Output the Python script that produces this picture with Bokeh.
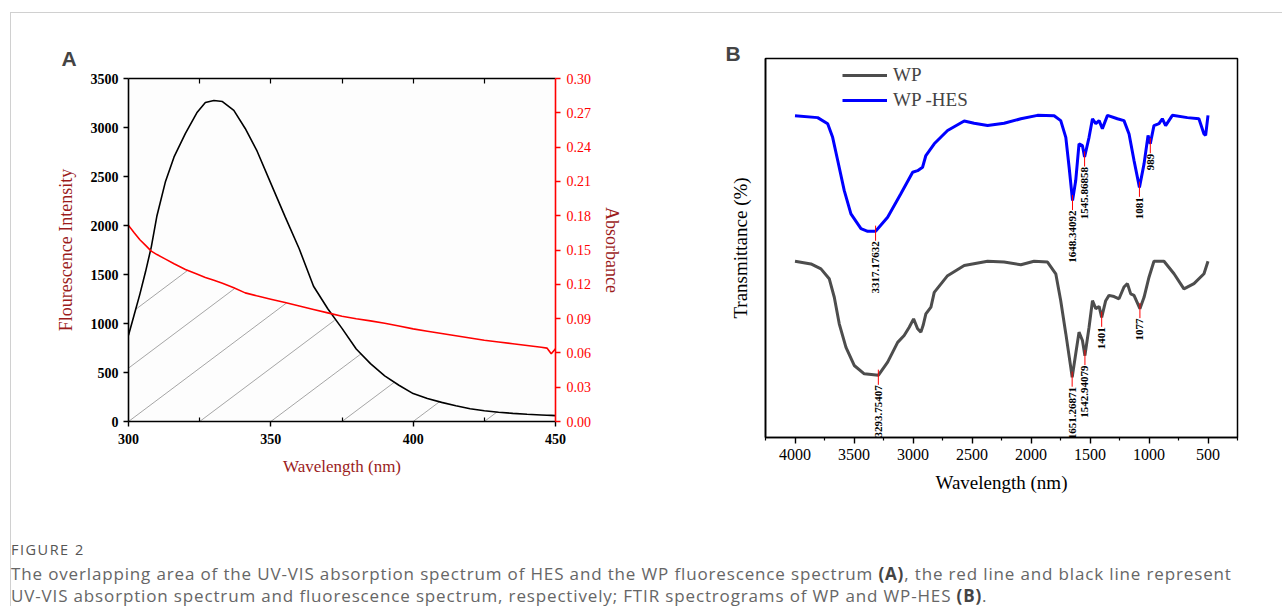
import numpy as np
from bokeh.plotting import figure
from bokeh.models import (Range1d, LinearAxis, FixedTicker, NumeralTickFormatter,
                          Legend, LegendItem, Div)
from bokeh.layouts import row, column
from bokeh.embed import file_html
from bokeh.resources import INLINE
from bokeh.core.properties import value

# ---------------- Panel A data ----------------
wavelength_nm = [300, 302, 304, 306, 308, 310, 313, 316, 320, 324, 327, 330, 333, 337,
                 341, 345, 350, 355, 360, 365, 370, 375, 380, 385, 390, 395, 400, 405,
                 410, 415, 420, 425, 430, 435, 440, 445, 447, 448.5, 450]
fluorescence = [880, 1090, 1300, 1530, 1780, 2100, 2450, 2700, 2940, 3150, 3255, 3275, 3265, 3175,
                2990, 2770, 2430, 2090, 1760, 1380, 1150, 950, 740, 590, 465, 370, 285, 235,
                195, 160, 130, 110, 95, 83, 74, 67, 64, 62, 60]
absorbance = [0.1715, 0.165, 0.159, 0.154, 0.149, 0.146, 0.142, 0.138, 0.133, 0.129, 0.126, 0.1235, 0.121, 0.117,
              0.1125, 0.110, 0.107, 0.104, 0.101, 0.098, 0.095, 0.092, 0.0898, 0.088, 0.086, 0.0835, 0.081, 0.079,
              0.077, 0.075, 0.073, 0.071, 0.0695, 0.068, 0.0665, 0.065, 0.0642, 0.0592, 0.0636]
a_x_ticks = [300, 350, 400, 450]
a_x_minor = [325, 375, 425]
a_top_ticks = [325, 350, 375, 400, 425]
a_left_ticks = [0, 500, 1000, 1500, 2000, 2500, 3000, 3500]
a_right_ticks = [0.0, 0.03, 0.06, 0.09, 0.12, 0.15, 0.18, 0.21, 0.24, 0.27, 0.30]

# ---------------- Panel B data ----------------
hes_wn = [4000, 3808, 3723, 3681, 3638, 3583, 3526, 3441, 3384, 3317, 3215, 3103, 3003, 2961,
          2919, 2891, 2820, 2707, 2566, 2482, 2368, 2228, 2086, 1945, 1804, 1748, 1705, 1677,
          1648, 1621, 1593, 1564, 1546, 1508, 1479, 1451, 1423, 1395, 1352, 1268, 1212, 1169,
          1127, 1081, 1042, 1008, 989, 958, 915, 887, 859, 802, 675, 577, 534, 520, 500]
hes_t = [84.9, 84.4, 82.8, 79.2, 73.1, 65.2, 59.0, 55.1, 54.4, 54.4, 58.1, 64.3, 70.0, 70.4,
         71.3, 74.4, 77.5, 81.0, 83.5, 82.9, 82.3, 82.9, 84.1, 85.0, 84.9, 83.6, 79.2, 71.3,
         62.5, 67.8, 77.5, 77.0, 74.0, 79.2, 84.1, 82.8, 83.6, 81.5, 85.0, 84.1, 83.6, 80.1,
         73.1, 66.0, 72.2, 79.7, 77.5, 82.3, 82.8, 84.1, 82.3, 85.0, 84.4, 84.1, 80.1, 79.7, 85.0]
wp_wn = [4000, 3865, 3780, 3710, 3667, 3625, 3568, 3498, 3413, 3294, 3215, 3130, 3075, 3032,
         2995, 2961, 2933, 2914, 2891, 2848, 2820, 2707, 2566, 2368, 2228, 2086, 1974, 1860,
         1790, 1748, 1705, 1663, 1651, 1621, 1593, 1564, 1543, 1508, 1479, 1451, 1423, 1401,
         1367, 1339, 1296, 1254, 1212, 1183, 1155, 1127, 1077, 1042, 1000, 958, 873, 788,
         704, 619, 534, 500]
wp_t = [46.5, 45.8, 44.5, 41.9, 37.0, 30.0, 23.8, 19.0, 16.8, 16.4, 19.9, 25.1, 26.9, 29.1,
        31.3, 28.7, 27.8, 29.6, 32.6, 34.4, 38.3, 42.7, 45.4, 46.5, 46.3, 45.6, 46.5, 46.3,
        43.2, 36.1, 27.4, 18.5, 15.9, 22.1, 27.8, 25.6, 21.6, 29.1, 36.1, 34.0, 34.6, 31.7,
        36.1, 37.5, 37.2, 36.6, 39.7, 40.6, 37.9, 37.5, 34.0, 37.0, 42.3, 46.5, 46.5, 43.2,
        39.2, 40.6, 43.2, 46.5]
hes_peak_wn = [3317.17632, 1648.34092, 1545.86858, 1081, 989]
hes_peak_t = [54.4, 62.5, 74.0, 66.0, 77.5]
hes_peak_labels = ["3317.17632", "1648.34092", "1545.86858", "1081", "989"]
wp_peak_wn = [3293.75407, 1651.26871, 1542.94079, 1401, 1077]
wp_peak_t = [16.4, 15.9, 21.6, 31.7, 34.0]
wp_peak_labels = ["3293.75407", "1651.26871", "1542.94079", "1401", "1077"]
b_x_ticks = [4000, 3500, 3000, 2500, 2000, 1500, 1000, 500]
b_x_minor = [4250, 3750, 3250, 2750, 2250, 1750, 1250, 750, 250]

SERIF = "Liberation Serif"
DARKRED = "#9b1c1c"

# ================= Panel A =================
A_FW, A_FH = 427, 343
fa = figure(width=689, height=505, x_range=Range1d(300, 450), y_range=Range1d(0, 3500),
            output_backend="svg", toolbar_location=None, x_axis_type=None, y_axis_type=None,
            min_border_left=117, min_border_right=145, min_border_top=65, min_border_bottom=97,
            title="A")
fa.outline_line_color = None
fa.background_fill_color = "#fdfdfd"
fa.extra_y_ranges = {"abs": Range1d(0, 0.30)}
fa.title.text_font = "Liberation Sans"
fa.title.text_font_style = "bold"
fa.title.text_font_size = "21px"
fa.title.align = "left"
fa.title.offset = -67
fa.title.standoff = 17

# hatched overlap region (under both curves), drawn as parallel lines
scale = 3500 / 0.30
overlap = np.minimum(np.array(fluorescence, float), np.array(absorbance) * scale)
px_nm = A_FW / 150.0
px_u = A_FH / 3500.0
m = 0.75 * px_nm / px_u
xs_f = np.linspace(300, 450, 6001)
ov_f = np.interp(xs_f, wavelength_nm, overlap)
hx0, hy0, hx1, hy1 = [], [], [], []
for x0 in np.arange(300 - 25 * 10, 450, 25):
    yl = m * (xs_f - x0)
    inside = (yl >= 0) & (yl <= ov_f)
    if inside.any():
        i0 = int(np.where(inside)[0][0])
        i1 = i0
        while i1 + 1 < len(xs_f) and inside[i1 + 1]:
            i1 += 1
        hx0.append(xs_f[i0]); hy0.append(yl[i0]); hx1.append(xs_f[i1]); hy1.append(yl[i1])
fa.segment(hx0, hy0, hx1, hy1, color="#8f8f8f", line_width=0.8)

fa.line(wavelength_nm, fluorescence, color="black", line_width=1.6)
fa.line(wavelength_nm, absorbance, y_range_name="abs", color="#ff0000", line_width=1.6)

def style_axis(ax, color="black", bold=True, size="14px"):
    ax.axis_line_color = color
    ax.axis_line_width = 1.6
    ax.major_tick_line_color = color
    ax.major_tick_line_width = 1.4
    ax.minor_tick_line_color = color
    ax.minor_tick_line_width = 1.2
    ax.major_label_text_font = SERIF
    ax.major_label_text_font_size = size
    ax.major_label_text_font_style = "bold" if bold else "normal"
    ax.major_label_text_color = color
    ax.axis_label_text_font = SERIF
    ax.axis_label_text_font_style = "normal"

ax_b = LinearAxis(ticker=FixedTicker(ticks=a_x_ticks, minor_ticks=a_x_minor),
                  axis_label="Wavelength (nm)")
style_axis(ax_b)
ax_b.major_tick_out = 5; ax_b.major_tick_in = 0
ax_b.minor_tick_out = 0; ax_b.minor_tick_in = 4
ax_b.major_label_standoff = 7
ax_b.axis_label_standoff = 10
ax_b.axis_label_text_font_size = "17px"
ax_b.axis_label_text_color = DARKRED
fa.add_layout(ax_b, "below")

ax_t = LinearAxis(ticker=FixedTicker(ticks=[], minor_ticks=a_top_ticks))
style_axis(ax_t)
ax_t.major_tick_out = 0; ax_t.major_tick_in = 0
ax_t.minor_tick_out = 0; ax_t.minor_tick_in = 5
fa.add_layout(ax_t, "above")

ax_l = LinearAxis(ticker=FixedTicker(ticks=a_left_ticks), axis_label="Flourescence Intensity")
style_axis(ax_l)
ax_l.major_tick_out = 5; ax_l.major_tick_in = 0
ax_l.major_label_standoff = 5
ax_l.axis_label_standoff = 12
ax_l.axis_label_text_font_size = "18px"
ax_l.axis_label_text_color = DARKRED
fa.add_layout(ax_l, "left")

ax_r = LinearAxis(y_range_name="abs", ticker=FixedTicker(ticks=a_right_ticks),
                  formatter=NumeralTickFormatter(format="0.00"), axis_label="Absorbance")
style_axis(ax_r, color="#ff0000", bold=False, size="14px")
ax_r.major_tick_out = 5; ax_r.major_tick_in = 0
ax_r.major_label_standoff = 6
ax_r.axis_label_standoff = 8
ax_r.axis_label_text_font_size = "18px"
ax_r.axis_label_text_color = DARKRED
fa.add_layout(ax_r, "right")

# ================= Panel B =================
fb = figure(width=582, height=505, x_range=Range1d(4250, 250), y_range=Range1d(0, 100),
            output_backend="svg", toolbar_location=None, x_axis_type=None, y_axis_type=None,
            min_border_left=65, min_border_right=45, min_border_top=45, min_border_bottom=81,
            title="B")
fb.outline_line_color = "black"
fb.outline_line_width = 1.5
fb.outline_line_alpha = 1
fb.title.text_font = "Liberation Sans"
fb.title.text_font_style = "bold"
fb.title.text_font_size = "21px"
fb.title.align = "left"
fb.title.offset = -40
try:
    fb.title.standoff = -13
except Exception:
    fb.title.standoff = 0

r_wp = fb.line(wp_wn, wp_t, color="#4d4d4d", line_width=3)
r_hes = fb.line(hes_wn, hes_t, color="#0000ff", line_width=3)

for pk, pt, lab in ((hes_peak_wn, hes_peak_t, hes_peak_labels), (wp_peak_wn, wp_peak_t, wp_peak_labels)):
    pt = np.array(pt)
    fb.segment(x0=pk, y0=pt + 1.5, x1=pk, y1=pt - 2.5, color="#ff0000", line_width=1)
    fb.text(x=pk, y=pt - 2.6, text=lab, angle=np.pi / 2, text_align="right",
            text_baseline="middle", text_font=value(SERIF), text_font_style="bold",
            text_font_size="11px", text_color="black")

bx = LinearAxis(ticker=FixedTicker(ticks=b_x_ticks, minor_ticks=b_x_minor),
                axis_label="Wavelength (nm)")
style_axis(bx, bold=False, size="16px")
bx.major_tick_out = 6; bx.major_tick_in = 0
bx.minor_tick_out = 3; bx.minor_tick_in = 0
bx.major_label_standoff = 5
bx.axis_label_standoff = 9
bx.axis_label_text_font_size = "19px"
bx.axis_label_text_color = "black"
fb.add_layout(bx, "below")

by = LinearAxis(ticker=FixedTicker(ticks=[]), axis_label="Transmittance (%)")
style_axis(by, bold=False)
by.major_tick_out = 0; by.major_tick_in = 0
by.major_label_standoff = 0
by.axis_label_standoff = 15
by.axis_label_text_font_size = "19px"
by.axis_label_text_color = "black"
fb.add_layout(by, "left")

legend = Legend(items=[LegendItem(label="WP", renderers=[r_wp]),
                       LegendItem(label="WP -HES", renderers=[r_hes])],
                location=(77, 326), background_fill_alpha=0, border_line_color=None,
                padding=4, spacing=3, margin=0, glyph_width=45, glyph_height=22,
                label_height=22, label_standoff=6, label_text_font=SERIF,
                label_text_font_size="19px")
fb.add_layout(legend)

# ================= Caption =================
caption_html = (
    '<div style="font-family:\'Open Sans\',sans-serif;padding-top:19px;margin-left:-5px;">'
    '<div style="font-size:14.5px;line-height:16px;color:#555;letter-spacing:1.5px;">FIGURE 2</div>'
    '<div style="font-size:17px;line-height:22px;margin-top:5px;color:#666;white-space:nowrap;letter-spacing:0.85px;">'
    'The overlapping area of the UV-VIS absorption spectrum of HES and the WP fluorescence spectrum '
    '<b style="color:#444">(A)</b>, the red line and black line represent<br>'
    'UV-VIS absorption spectrum and fluorescence spectrum, respectively; FTIR spectrograms of WP and WP-HES '
    '<b style="color:#444">(B)</b>.</div></div>'
)
caption = Div(text=caption_html, width=1271, height=88)

root = column(row(column(fa), column(fb)), caption,
              styles={"margin-left": "10px", "margin-top": "12px",
                      "border-left": "1px solid #d0d0d0", "border-top": "1px solid #d0d0d0"})

open("out.html", "w").write(file_html(root, INLINE))
